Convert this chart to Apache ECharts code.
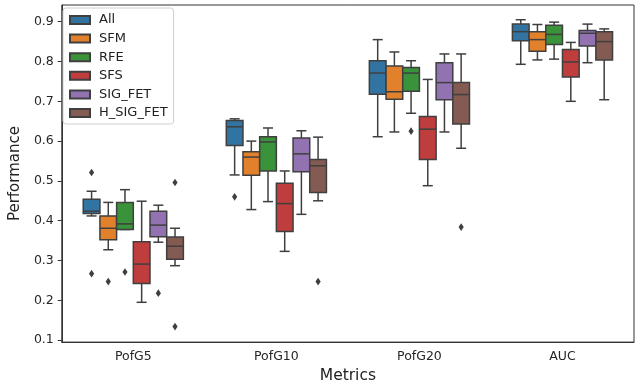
<!DOCTYPE html>
<html>
<head>
<meta charset="utf-8">
<script src="https://cdn.jsdelivr.net/npm/echarts@6/dist/echarts.min.js"></script>
<style>
  html, body { margin: 0; padding: 0; background: #fff; }
  #chart { width: 639px; height: 389px; }
</style>
</head>
<body>
<div id="chart"></div>
<script>
// categories and hue groups
var metrics = ['PofG5', 'PofG10', 'PofG20', 'AUC'];
var methods = ['All', 'SFM', 'RFE', 'SFS', 'SIG_FET', 'H_SIG_FET'];
var yTicks = [0.1, 0.2, 0.3, 0.4, 0.5, 0.6, 0.7, 0.8, 0.9];

// box stats per metric: [lower whisker, q1, median, q3, upper whisker]
var boxAll = [
    [0.412, 0.418, 0.424, 0.454, 0.474],
    [0.515, 0.589, 0.636, 0.652, 0.656],
    [0.611, 0.718, 0.771, 0.802, 0.855],
    [0.793, 0.852, 0.875, 0.894, 0.905]
];
var boxSFM = [
    [0.327, 0.352, 0.381, 0.412, 0.446],
    [0.428, 0.514, 0.560, 0.573, 0.600],
    [0.623, 0.705, 0.724, 0.789, 0.824],
    [0.804, 0.826, 0.855, 0.875, 0.893]
];
var boxRFE = [
    [0.378, 0.378, 0.392, 0.446, 0.478],
    [0.448, 0.525, 0.598, 0.611, 0.633],
    [0.670, 0.725, 0.771, 0.785, 0.802],
    [0.806, 0.843, 0.868, 0.891, 0.899]
];
var boxSFS = [
    [0.195, 0.242, 0.291, 0.347, 0.449],
    [0.323, 0.373, 0.443, 0.494, 0.525],
    [0.488, 0.554, 0.630, 0.662, 0.755],
    [0.700, 0.761, 0.799, 0.830, 0.848]
];
var boxSIG = [
    [0.346, 0.360, 0.389, 0.424, 0.439],
    [0.416, 0.523, 0.568, 0.608, 0.626],
    [0.623, 0.704, 0.747, 0.797, 0.819],
    [0.797, 0.839, 0.871, 0.878, 0.894]
];
var boxHSIG = [
    [0.287, 0.303, 0.336, 0.359, 0.381],
    [0.450, 0.471, 0.538, 0.554, 0.610],
    [0.582, 0.643, 0.717, 0.747, 0.819],
    [0.704, 0.804, 0.850, 0.875, 0.882]
];

// outliers: [metric index, value]
var outAll = [[0, 0.521], [0, 0.267], [1, 0.460]];
var outSFM = [[0, 0.247]];
var outRFE = [[0, 0.271], [2, 0.625]];
var outSFS = [];
var outSIG = [[0, 0.218]];
var outHSIG = [[0, 0.496], [0, 0.134], [1, 0.247], [2, 0.384]];

var boxes = [boxAll, boxSFM, boxRFE, boxSFS, boxSIG, boxHSIG];
var outliers = [outAll, outSFM, outRFE, outSFS, outSIG, outHSIG];
var colors = ['#3274a1', '#e1812c', '#3a923a', '#c03d3e', '#9372b2', '#845b53'];
var edge = '#3f3f3f';
var font = 'DejaVu Sans';

var chart = echarts.init(document.getElementById('chart'));

// x centre of hue k inside the band of category cat
function hueX(api, cat, k) {
    var band = api.size([1, 0])[0];
    var slot = band * 0.7 / methods.length;
    return {
        x: api.coord([cat, 0.5])[0] + (k - (methods.length - 1) / 2) * slot,
        slot: slot
    };
}

function boxRenderer(k) {
    return function (params, api) {
        var cat = api.value(0);
        var p = hueX(api, cat, k);
        var cx = p.x, half = p.slot / 2, cap = p.slot * 0.3;
        var y = [1, 2, 3, 4, 5].map(function (d) {
            return api.coord([cat, api.value(d)])[1];
        });
        var ls = { stroke: edge, lineWidth: 1.5 };
        return {
            type: 'group',
            children: [
                { type: 'line', shape: { x1: cx, y1: y[0], x2: cx, y2: y[1] }, style: ls },
                { type: 'line', shape: { x1: cx, y1: y[3], x2: cx, y2: y[4] }, style: ls },
                { type: 'line', shape: { x1: cx - cap, y1: y[0], x2: cx + cap, y2: y[0] }, style: ls },
                { type: 'line', shape: { x1: cx - cap, y1: y[4], x2: cx + cap, y2: y[4] }, style: ls },
                {
                    type: 'rect',
                    shape: { x: cx - half, y: y[3], width: half * 2, height: y[1] - y[3] },
                    style: { fill: colors[k], stroke: edge, lineWidth: 1.5 }
                },
                { type: 'line', shape: { x1: cx - half, y1: y[2], x2: cx + half, y2: y[2] }, style: ls }
            ]
        };
    };
}

function outlierRenderer(k) {
    return function (params, api) {
        var cat = api.value(0);
        var cx = hueX(api, cat, k).x;
        var cy = api.coord([cat, api.value(1)])[1];
        return {
            type: 'polygon',
            shape: { points: [[cx, cy - 3.8], [cx + 2.6, cy], [cx, cy + 3.8], [cx - 2.6, cy]] },
            style: { fill: edge }
        };
    };
}

var series = [];
methods.forEach(function (name, k) {
    series.push({
        name: name,
        type: 'custom',
        renderItem: boxRenderer(k),
        itemStyle: { color: colors[k], borderColor: edge, borderWidth: 1 },
        encode: { x: 0, y: [1, 2, 3, 4, 5] },
        data: boxes[k].map(function (b, i) { return [i].concat(b); }),
        z: 2
    });
});
methods.forEach(function (name, k) {
    series.push({
        name: name + ' outliers',
        type: 'custom',
        renderItem: outlierRenderer(k),
        encode: { x: 0, y: 1 },
        data: outliers[k],
        z: 3
    });
});

var option = {
    animation: false,
    textStyle: { fontFamily: font },
    grid: {
        left: 60, right: 5, top: 5, bottom: 42,
        show: true, borderColor: '#333', borderWidth: 1
    },
    legend: {
        data: methods,
        orient: 'vertical',
        left: 63, top: 8,
        padding: [5, 6, 4, 6],
        itemWidth: 20, itemHeight: 8,
        itemGap: 4.6,
        icon: 'rect',
        backgroundColor: 'rgba(255,255,255,0.8)',
        borderColor: '#d0d0d0', borderWidth: 1, borderRadius: 3,
        textStyle: { fontSize: 13, color: '#222', fontFamily: font, lineHeight: 14, padding: [0, 0, 0, 4] }
    },
    xAxis: {
        type: 'category',
        data: metrics,
        name: 'Metrics',
        nameLocation: 'middle',
        nameGap: 24,
        nameTextStyle: { fontSize: 15.5, color: '#222', fontFamily: font },
        axisLine: { lineStyle: { color: '#333', width: 1 } },
        axisTick: { alignWithLabel: true, length: 4, lineStyle: { color: '#333' } },
        axisLabel: { fontSize: 12.5, color: '#262626', margin: 8, fontFamily: font },
        splitLine: { show: false }
    },
    yAxis: {
        type: 'value',
        min: 0.095,
        max: 0.942,
        name: 'Performance',
        nameLocation: 'middle',
        nameGap: 28,
        nameTextStyle: { fontSize: 15, color: '#222', fontFamily: font },
        axisLine: { show: true, lineStyle: { color: '#333', width: 1 } },
        axisTick: { show: true, length: 4, customValues: yTicks, lineStyle: { color: '#333' } },
        axisLabel: {
            customValues: yTicks,
            fontSize: 12.5, color: '#262626', margin: 8, fontFamily: font,
            formatter: function (v) { return v.toFixed(1); }
        },
        splitLine: { show: false }
    },
    series: series
};

chart.setOption(option);
</script>
</body>
</html>
